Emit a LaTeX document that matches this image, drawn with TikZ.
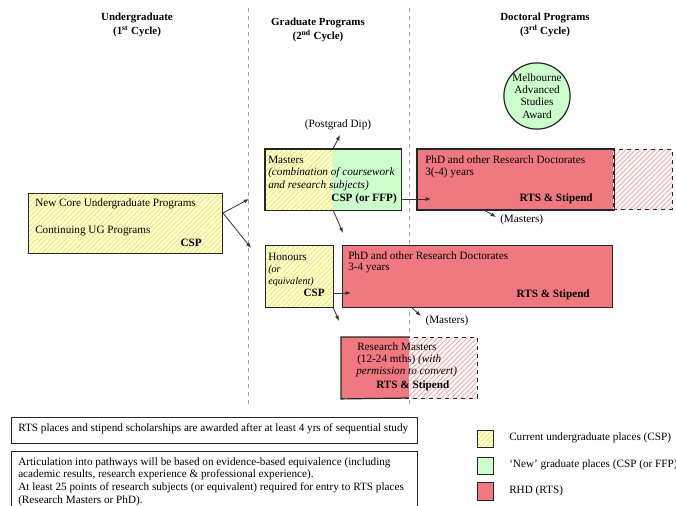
\documentclass[tikz,border=0pt]{standalone}
\usepackage{fontspec}
\setmainfont{Liberation Serif}
\usetikzlibrary{patterns.meta,arrows.meta}
\definecolor{uy}{HTML}{FFFFD8}
\definecolor{uys}{HTML}{EEEE80}
\definecolor{ng}{HTML}{CCFFCC}
\definecolor{rd}{HTML}{F07880}
\definecolor{pks}{HTML}{F4B0B0}
\newcommand{\fs}{\fontsize{8.4}{9.5}\selectfont}
\begin{document}
\begin{tikzpicture}[x=0.75pt,y=-0.75pt,
  txt/.style={inner sep=0pt,font=\fs},
  btxt/.style={inner sep=0pt,font=\fs\bfseries},
  hdr/.style={inner sep=0pt,align=center,font=\fontsize{8.2}{10.5}\selectfont\bfseries},
  boxline/.style={draw=black!85,line width=0.9pt},
  ugbox/.style={boxline,inner sep=0pt,anchor=north west},
  yhatch/.style={preaction={fill=uy},pattern={Lines[angle=45,distance=2.6pt,line width=0.8pt]},pattern color=uys},
  phatch/.style={preaction={fill=white},pattern={Lines[angle=45,distance=2.6pt,line width=0.8pt]},pattern color=pks},
  sep/.style={draw=gray!70,dashed,line width=0.6pt},
  arr/.style={draw=black!80,line width=0.6pt,-{Latex[length=4pt,width=3pt]}}
]
\useasboundingbox (0,0) rectangle (676,506);
% separators
\draw[sep] (248,8) -- (248,405);
\draw[sep] (409,8) -- (409,405);
% headers
\node[hdr] (h1) at (137,25) {Undergraduate\\(1\textsuperscript{st} Cycle)};
\node[hdr] (h2) at (318,30) {Graduate Programs\\(2\textsuperscript{nd} Cycle)};
\node[hdr] (h3) at (545,25) {Doctoral Programs\\(3\textsuperscript{rd} Cycle)};
% Melbourne award
\node[circle,draw=black!85,line width=0.9pt,fill=ng,minimum size=48pt,inner sep=0pt,align=center,font=\fontsize{8.4}{9.2}\selectfont] (mas) at (537,96) {Melbourne\\Advanced\\Studies\\Award};
% UG box
\node[ugbox,yhatch,minimum width=145.5pt,minimum height=45pt] (ug) at (28,193) {};
\node[txt,anchor=west] (ugt1) at (35,204) {New Core Undergraduate Programs};
\node[txt,anchor=west] (ugt2) at (35,231) {Continuing UG Programs};
\node[btxt,anchor=east] (ugt3) at (202,243) {CSP};
% Masters box
\node[inner sep=0pt,anchor=north west,fill=ng,minimum width=102pt,minimum height=45.75pt] (ma) at (265,149) {};
\coordinate (masplit) at (332,210);
\path[yhatch] (ma.north west) rectangle (masplit);
\draw[boxline] (ma.north west) rectangle (ma.south east);
\node[txt,anchor=west] (mat1) at (268,160) {Masters};
\node[txt,anchor=west,align=left,font=\fontsize{8.4}{9.75}\selectfont\itshape] (mat2) at (268,179.5) {(combination of coursework\\and research subjects)};
\node[btxt,anchor=east] (mat3) at (397,199) {CSP (or FFP)};
% PhD top
\node[ugbox,fill=rd,minimum width=147pt,minimum height=45pt] (phd1) at (417,149) {};
\node[ugbox,phatch,draw=black!85,dashed,line width=0.7pt,minimum width=44.25pt,minimum height=45pt] (phd1x) at (613,149) {};
\draw[boxline] (phd1.north west) rectangle (phd1.south east);
\node[txt,anchor=west] (p1t1) at (425,160) {PhD and other Research Doctorates};
\node[txt,anchor=west] (p1t2) at (425,173) {3(-4) years};
\node[btxt,anchor=east] (p1t3) at (593,199) {RTS \& Stipend};
% Honours
\node[ugbox,yhatch,minimum width=51pt,minimum height=46.5pt] (hon) at (265,245) {};
\node[txt,anchor=west] (ht1) at (268,257) {Honours};
\node[txt,anchor=west,align=left,font=\fontsize{7.6}{9}\selectfont\itshape] (ht2) at (268,276) {(or\\equivalent)};
\node[btxt,anchor=east] (ht3) at (325,293) {CSP};
% PhD low
\node[ugbox,fill=rd,minimum width=202.5pt,minimum height=46.5pt] (phd2) at (342,245) {};
\node[txt,anchor=west] (p2t1) at (348,256) {PhD and other Research Doctorates};
\node[txt,anchor=west] (p2t2) at (348,268) {3-4 years};
\node[btxt,anchor=east] (p2t3) at (590,295) {RTS \& Stipend};
% Research Masters
\node[ugbox,phatch,draw=black!85,dashed,line width=0.7pt,minimum width=102pt,minimum height=45.75pt] (rm) at (341,337) {};
\coordinate (rmsplit) at (409,398);
\path[fill=rd] (rm.north west) rectangle (rmsplit);
\draw[boxline] (rmsplit) -- (rm.south west) -- (rm.north west) -- (rm.north west -| rmsplit);
\node[txt,anchor=west] (rmt1) at (357,347) {Research Masters};
\node[txt,anchor=west] (rmt2) at (357,360) {(12-24 mths) {\itshape (with}};
\node[txt,anchor=west,font=\fs\itshape] (rmt3) at (356,372) {permission to convert)};
\node[btxt,anchor=west] (rmt4) at (376,386) {RTS \& Stipend};
% labels
\node[txt] (pgd) at (338,125) {(Postgrad Dip)};
\node[txt,anchor=west] (mst1) at (500,220) {(Masters)};
\node[txt] (mst2) at (447,321) {(Masters)};
% arrow endpoints
\coordinate (ugo) at (223,213);
\coordinate (a1e) at (249,199);
\coordinate (a2e) at (251,248);
\coordinate (pgs) at (333,149);
\coordinate (pge) at (340,135);
\coordinate (mcs) at (401,199);
\coordinate (mce) at (431,199);
\coordinate (mds) at (333,210);
\coordinate (mde) at (343,233);
\coordinate (p1s) at (484,210);
\coordinate (p1e) at (496,217);
\coordinate (hcs) at (333,293);
\coordinate (hce) at (351,293);
\coordinate (hds) at (333,307);
\coordinate (hde) at (339,321);
\coordinate (p2s) at (411,307);
\coordinate (p2e) at (421,316);
\draw[arr] (ugo) -- (a1e);
\draw[arr] (ugo) -- (a2e);
\draw[arr] (pgs) -- (pge);
\draw[arr] (mcs) -- (mce);
\draw[arr] (mds) -- (mde);
\draw[arr] (p1s) -- (p1e);
\draw[arr] (hcs) -- (hce);
\draw[arr] (hds) -- (hde);
\draw[arr] (p2s) -- (p2e);
% notes
\node[ugbox,minimum width=304.5pt,minimum height=19.5pt] (n1) at (11,417) {};
\node[txt,anchor=west] (n1t) at (18,429) {RTS places and stipend scholarships are awarded after at least 4 yrs of sequential study};
\node[ugbox,minimum width=304.5pt,minimum height=60pt] (n2) at (11,451) {};
\node[txt,anchor=north west,align=left] (n2t) at (18,457) {Articulation into pathways will be based on evidence-based equivalence (including\\academic results, research experience \& professional experience).\\At least 25 points of research subjects (or equivalent) required for entry to RTS places\\(Research Masters or PhD).};
% legend
\node[ugbox,yhatch,minimum width=12pt,minimum height=12.75pt] (lg1) at (477,430) {};
\node[ugbox,fill=ng,minimum width=12pt,minimum height=12.75pt] (lg2) at (477,457) {};
\node[ugbox,fill=rd,minimum width=12pt,minimum height=13.5pt] (lg3) at (477,482) {};
\node[txt,anchor=west] (lt1) at (509,438) {Current undergraduate places (CSP)};
\node[txt,anchor=west] (lt2) at (509,465) {`New' graduate places (CSP (or FFP)};
\node[txt,anchor=west] (lt3) at (509,491) {RHD (RTS)};
\end{tikzpicture}
\end{document}
